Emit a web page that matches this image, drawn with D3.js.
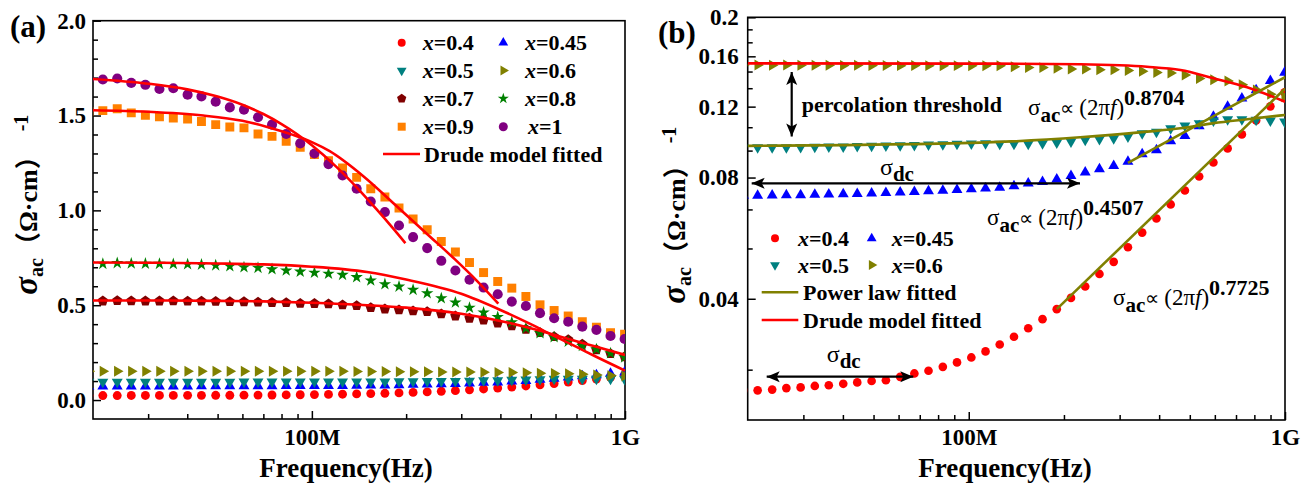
<!DOCTYPE html>
<html>
<head>
<meta charset="utf-8">
<script src="https://cdn.jsdelivr.net/npm/d3@7"></script>
<style>
  body { margin: 0; background: #fff; }
  svg text { font-family: "Liberation Serif", "Times New Roman", serif; font-weight: bold; fill: #000; }
</style>
</head>
<body>
<svg id="chart" width="1312" height="484"></svg>
<script>
// frequency sweep (MHz), same for every sample
const freqMHz = [19.4, 21.5, 23.9, 26.5, 29.4, 32.6, 36.1, 40.1, 44.4, 49.3, 54.7, 60.7, 67.3, 74.6, 82.8,
  91.8, 101.9, 113, 125.3, 139, 154.2, 171.1, 189.8, 210.5, 233.5, 259, 287.3, 318.7, 353.5, 392.2, 435,
  482.5, 535.3, 593.8, 658.6, 730.6, 810.4, 899, 997];

// sigma_ac (Ohm cm)^-1 for each composition x
const sigma04 = [0.0237, 0.0237, 0.0238, 0.0240, 0.0241, 0.0243, 0.0244, 0.0246, 0.0248, 0.0250, 0.0251, 0.0256,
  0.0261, 0.0265, 0.0271, 0.0278, 0.0286, 0.0296, 0.0308, 0.0322, 0.0338, 0.0356, 0.0377, 0.0402, 0.0429, 0.0461,
  0.0494, 0.0537, 0.0584, 0.0633, 0.0686, 0.0743, 0.0805, 0.0872, 0.0945, 0.1024, 0.1109, 0.1202, 0.1302];
const sigma045 = [0.0722, 0.0722, 0.0723, 0.0724, 0.0724, 0.0726, 0.0727, 0.0728, 0.0729, 0.0731, 0.0733, 0.0735,
  0.0737, 0.0740, 0.0743, 0.0746, 0.0749, 0.0752, 0.0755, 0.0762, 0.0774, 0.0781, 0.0792, 0.0808, 0.0824, 0.0840,
  0.0856, 0.0876, 0.0915, 0.0936, 0.0986, 0.1015, 0.1074, 0.1133, 0.1200, 0.1259, 0.1320, 0.1390, 0.1457];
const sigma05 = [0.0950, 0.0950, 0.0950, 0.0951, 0.0952, 0.0953, 0.0954, 0.0955, 0.0957, 0.0958, 0.0960, 0.0962,
  0.0963, 0.0965, 0.0967, 0.0969, 0.0971, 0.0973, 0.0970, 0.0969, 0.0969, 0.0973, 0.0977, 0.0982, 0.0992, 0.0996,
  0.1001, 0.1010, 0.1030, 0.1039, 0.1060, 0.1076, 0.1091, 0.1107, 0.1116, 0.1116, 0.1112, 0.1107, 0.1101];
const sigma06 = [0.1522, 0.1522, 0.1521, 0.1522, 0.1520, 0.1521, 0.1520, 0.1519, 0.1520, 0.1518, 0.1519, 0.1517,
  0.1518, 0.1517, 0.1516, 0.1517, 0.1516, 0.1516, 0.1516, 0.1508, 0.1500, 0.1500, 0.1494, 0.1489, 0.1489, 0.1482,
  0.1482, 0.1475, 0.1470, 0.1458, 0.1455, 0.1438, 0.1409, 0.1400, 0.1390, 0.1360, 0.1319, 0.1288, 0.1270];
const sigma07 = [0.522, 0.522, 0.524, 0.523, 0.522, 0.522, 0.523, 0.521, 0.521, 0.520, 0.519, 0.518, 0.516, 0.514,
  0.513, 0.510, 0.509, 0.507, 0.502, 0.498, 0.487, 0.480, 0.475, 0.470, 0.466, 0.454, 0.443, 0.431, 0.422, 0.405,
  0.391, 0.373, 0.355, 0.334, 0.318, 0.295, 0.265, 0.245, 0.228];
const sigma08 = [0.718, 0.718, 0.722, 0.720, 0.719, 0.718, 0.717, 0.716, 0.714, 0.710, 0.706, 0.700, 0.697, 0.690,
  0.683, 0.677, 0.671, 0.666, 0.660, 0.648, 0.630, 0.611, 0.598, 0.581, 0.563, 0.537, 0.514, 0.487, 0.461, 0.438,
  0.410, 0.378, 0.352, 0.331, 0.308, 0.285, 0.268, 0.247, 0.225];
const sigma09 = [1.520, 1.526, 1.536, 1.514, 1.501, 1.493, 1.487, 1.482, 1.469, 1.452, 1.440, 1.435, 1.403, 1.390,
  1.364, 1.332, 1.294, 1.262, 1.223, 1.174, 1.114, 1.070, 1.012, 0.954, 0.898, 0.836, 0.780, 0.725, 0.672, 0.625,
  0.590, 0.546, 0.502, 0.472, 0.443, 0.413, 0.384, 0.355, 0.347];
const sigma10 = [1.690, 1.690, 1.695, 1.672, 1.662, 1.640, 1.644, 1.610, 1.601, 1.573, 1.543, 1.531, 1.491, 1.452,
  1.403, 1.353, 1.300, 1.244, 1.184, 1.114, 1.047, 0.991, 0.920, 0.859, 0.801, 0.734, 0.683, 0.634, 0.593, 0.558,
  0.519, 0.496, 0.458, 0.431, 0.413, 0.387, 0.370, 0.338, 0.322];

// fitted curves, [MHz, sigma]
const drude10Fit = [[20, 1.693], [30, 1.668], [40, 1.638], [50, 1.600], [60, 1.557], [70, 1.508], [80, 1.455],
  [90, 1.400], [100, 1.343], [120, 1.228], [140, 1.116], [160, 1.010], [180, 0.913], [199, 0.827]];
const drude09Fit = [[20, 1.528], [30, 1.520], [45, 1.500], [60, 1.472], [72, 1.440], [87, 1.398], [100, 1.360],
  [114, 1.312], [146, 1.180], [187, 1.020], [239, 0.860], [287, 0.740], [336, 0.630], [394, 0.508]];
const drude08Fit = [[20, 0.725], [30, 0.724], [50, 0.720], [70, 0.715], [100, 0.703], [150, 0.675], [200, 0.635],
  [300, 0.560], [400, 0.475], [500, 0.400], [600, 0.334], [700, 0.280], [800, 0.232], [1000, 0.155]];
const drude07Fit = [[20, 0.525], [30, 0.525], [50, 0.523], [70, 0.520], [100, 0.513], [150, 0.500], [200, 0.487],
  [300, 0.455], [400, 0.417], [500, 0.378], [600, 0.342], [700, 0.310], [800, 0.283], [1000, 0.238]];
const drude06Fit = [[20, 0.1537], [100, 0.1535], [225, 0.1529], [300, 0.1520], [366, 0.1507], [467, 0.1479],
  [594, 0.1411], [759, 0.1340], [1000, 0.1234]];
const power04Fit = [[189.8, 0.0377], [1000, 0.133]];
const power045Fit = [[318.7, 0.0870], [1000, 0.142]];
const power05Fit = [[20, 0.0959], [108.7, 0.0977], [225, 0.1007], [366, 0.1040], [467, 0.1060], [594, 0.1092],
  [759, 0.1117], [1000, 0.1144]];

// ticks
const xMajorTicks = [100, 1000];
const xTickLabels = ['100M', '1G'];
const xMinorTicks = [30, 40, 50, 60, 70, 80, 90, 200, 300, 400, 500, 600, 700, 800, 900];
const yaMajorTicks = [0, 0.5, 1.0, 1.5, 2.0];
const yaTickLabels = ['0.0', '0.5', '1.0', '1.5', '2.0'];
const yaMinorTicks = [0.1, 0.2, 0.3, 0.4, 0.6, 0.7, 0.8, 0.9, 1.1, 1.2, 1.3, 1.4, 1.6, 1.7, 1.8, 1.9];
const ybMajorTicks = [0.04, 0.08, 0.12, 0.16, 0.2];
const ybTickLabels = ['0.04', '0.08', '0.12', '0.16', '0.2'];
const ybMinorTicks = [0.02667, 0.05333, 0.06667, 0.09333, 0.10667, 0.13333, 0.14667, 0.17333, 0.18667];

const svg = d3.select('#chart');
svg.append('rect').attr('width', 1312).attr('height', 484).attr('fill', '#fff');

const xA = d3.scaleLog().domain([20, 1000]).range([93, 625]);
const yA = d3.scaleLinear().domain([-0.1, 2.0]).range([419, 20.7]);
const xB = d3.scaleLog().domain([20, 1000]).range([747.7, 1285]);
const yB = d3.scaleLog().domain([0.02, 0.2]).range([420, 17.3]);

// pentagon symbol for x=0.7
const symbolPentagon = {
  draw(ctx, size) {
    const r = Math.sqrt(size / 2.378);
    for (let k = 0; k < 5; k++) {
      const a = -Math.PI / 2 + k * 2 * Math.PI / 5;
      if (k) ctx.lineTo(r * Math.cos(a), r * Math.sin(a));
      else ctx.moveTo(r * Math.cos(a), r * Math.sin(a));
    }
    ctx.closePath();
  }
};

const samples = {
  '0.4': { vals: sigma04, color: '#ff0000', type: d3.symbolCircle, size: 62, rot: 0 },
  '0.45': { vals: sigma045, color: '#0000ff', type: d3.symbolTriangle, size: 52, rot: 0 },
  '0.5': { vals: sigma05, color: '#008080', type: d3.symbolTriangle, size: 52, rot: 180 },
  '0.6': { vals: sigma06, color: '#808000', type: d3.symbolTriangle, size: 52, rot: 90 },
  '0.7': { vals: sigma07, color: '#800000', type: symbolPentagon, size: 70, rot: 0 },
  '0.8': { vals: sigma08, color: '#008000', type: d3.symbolStar, size: 48, rot: 0 },
  '0.9': { vals: sigma09, color: '#ff8000', type: d3.symbolSquare, size: 80, rot: 0 },
  '1': { vals: sigma10, color: '#800080', type: d3.symbolCircle, size: 80, rot: 0 }
};

function drawAxes(x, y, o) {
  const [x0, x1] = x.range(), [y0, y1] = y.range();
  const ax = svg.append('g').attr('transform', `translate(0,${y0})`)
    .call(d3.axisBottom(x).tickValues(xMajorTicks).tickFormat((d, i) => xTickLabels[i])
      .tickSizeInner(-8).tickSizeOuter(0).tickPadding(o.xPad));
  svg.append('g').attr('transform', `translate(0,${y0})`)
    .call(d3.axisBottom(x).tickValues(xMinorTicks).tickFormat('').tickSizeInner(-5).tickSizeOuter(0));
  const ay = svg.append('g').attr('transform', `translate(${x0},0)`)
    .call(d3.axisLeft(y).tickValues(o.yMajor).tickFormat((d, i) => o.yLabels[i])
      .tickSizeInner(-8).tickSizeOuter(0).tickPadding(o.yPad));
  svg.append('g').attr('transform', `translate(${x0},0)`)
    .call(d3.axisLeft(y).tickValues(o.yMinor).tickFormat('').tickSizeInner(-5).tickSizeOuter(0));
  svg.selectAll('.domain').remove();
  svg.selectAll('.tick line').attr('stroke', '#000').attr('stroke-width', 1.5);
  ax.attr('font-family', null).attr('font-size', null);
  ay.attr('font-family', null).attr('font-size', null);
  ax.selectAll('text').attr('font-size', 23);
  ay.selectAll('text').attr('font-size', 23);
  svg.append('rect').attr('x', x0).attr('y', y1).attr('width', x1 - x0).attr('height', y0 - y1)
    .attr('fill', 'none').attr('stroke', '#000').attr('stroke-width', 1.6);
  svg.append('text').attr('x', o.titleX).attr('y', 477).attr('text-anchor', 'middle')
    .attr('font-size', 27).text('Frequency(Hz)');
}

// rotated y title: sigma_ac (Ohm cm) and the -1 exponent as its own text
function yTitle(bx, cy, sx, sy) {
  const t = svg.append('text').attr('transform', `translate(${bx},${cy}) rotate(-90)`)
    .attr('text-anchor', 'middle');
  t.append('tspan').attr('font-style', 'italic').attr('font-size', 33).text('σ');
  t.append('tspan').attr('font-size', 20).attr('dy', 6).text('ac');
  t.append('tspan').attr('font-size', 26).attr('dy', -6)
    .style('font-family', '"Noto Sans CJK SC"').text('（');
  t.append('tspan').attr('font-size', 26).text('Ω·cm');
  t.append('tspan').attr('font-size', 26).style('font-family', '"Noto Sans CJK SC"').text('）');
  svg.append('text').attr('transform', `translate(${sx},${sy}) rotate(-90)`)
    .attr('text-anchor', 'middle').attr('font-size', 20).text('-1');
}

function clipFor(id, x, y) {
  svg.append('clipPath').attr('id', id).append('rect')
    .attr('x', x.range()[0]).attr('y', y.range()[1])
    .attr('width', x.range()[1] - x.range()[0]).attr('height', y.range()[0] - y.range()[1]);
  return svg.append('g').attr('clip-path', `url(#${id})`);
}

function drawMarkers(g, x, y, key, scale) {
  const s = samples[key];
  g.append('g').selectAll('path')
    .data(freqMHz.map((f, i) => [f, s.vals[i]]))
    .join('path')
    .attr('transform', d => `translate(${x(d[0])},${y(d[1])}) rotate(${s.rot})`)
    .attr('d', d3.symbol(s.type, s.size * scale)())
    .attr('fill', s.color);
}

function drawFit(g, x, y, pts, color) {
  const line = d3.line().x(d => x(d[0])).y(d => y(d[1])).curve(d3.curveMonotoneX);
  g.append('path').attr('d', line(pts)).attr('fill', 'none')
    .attr('stroke', color).attr('stroke-width', 2.6);
}

function legendItem(mx, tx, cy, key) {
  const s = samples[key];
  svg.append('path').attr('transform', `translate(${mx},${cy}) rotate(${s.rot})`)
    .attr('d', d3.symbol(s.type, s.size * 0.8)()).attr('fill', s.color);
  const t = svg.append('text').attr('x', tx).attr('y', cy + 7.5).attr('font-size', 22);
  t.append('tspan').attr('font-style', 'italic').text('x');
  t.append('tspan').text('=' + key);
}

function legendLine(x0, x1, tx, cy, color, label) {
  svg.append('line').attr('x1', x0).attr('x2', x1).attr('y1', cy).attr('y2', cy)
    .attr('stroke', color).attr('stroke-width', 2.6);
  svg.append('text').attr('x', tx).attr('y', cy + 7.5).attr('font-size', 22).text(label);
}

function arrowHead(x, y, angle) {
  svg.append('path').attr('d', 'M0,0 L-13,-5.5 L-10,0 L-13,5.5 Z')
    .attr('transform', `translate(${x},${y}) rotate(${angle})`).attr('fill', '#000');
}

function doubleArrow(x1, y1, x2, y2) {
  svg.append('line').attr('x1', x1).attr('y1', y1).attr('x2', x2).attr('y2', y2)
    .attr('stroke', '#000').attr('stroke-width', 2.2);
  const ang = Math.atan2(y2 - y1, x2 - x1) * 180 / Math.PI;
  arrowHead(x2, y2, ang);
  arrowHead(x1, y1, ang + 180);
}

function sigmaDc(x, y) {
  const t = svg.append('text').attr('x', x).attr('y', y).attr('font-size', 24);
  t.append('tspan').style('font-weight', 'normal').text('σ');
  t.append('tspan').attr('font-size', 21).attr('dy', 6).text('dc');
}

function sigmaAc(x, y, expo) {
  const t = svg.append('text').attr('x', x).attr('y', y).attr('font-size', 23);
  t.append('tspan').style('font-weight', 'normal').text('σ');
  t.append('tspan').attr('font-size', 21).attr('dy', 7).text('ac');
  t.append('tspan').style('font-weight', 'normal').attr('font-size', 20).attr('dy', -7).text('∝ ');
  t.append('tspan').style('font-weight', 'normal').text('(2π');
  t.append('tspan').style('font-weight', 'normal').attr('font-style', 'italic').text('f');
  t.append('tspan').style('font-weight', 'normal').text(')');
  t.append('tspan').attr('font-size', 22).attr('dy', -10).text(expo);
}

// ---------- panel (a) ----------
drawAxes(xA, yA, { yMajor: yaMajorTicks, yLabels: yaTickLabels, yMinor: yaMinorTicks, xPad: 9.7, yPad: 7, titleX: 346 });
const gA = clipFor('clipA', xA, yA);
['0.4', '0.45', '0.5', '0.6', '0.7', '0.8', '0.9', '1'].forEach(k => drawMarkers(gA, xA, yA, k, 1));
[drude10Fit, drude09Fit, drude08Fit, drude07Fit].forEach(p => drawFit(gA, xA, yA, p, '#ff0000'));
yTitle(37, 219, 28, 123);
svg.append('text').attr('x', 10).attr('y', 37).attr('font-size', 31).text('(a)');

legendItem(401.7, 422.7, 42.7, '0.4');
legendItem(503.3, 525, 42.7, '0.45');
legendItem(401.7, 422.7, 70.5, '0.5');
legendItem(503.3, 525, 70.5, '0.6');
legendItem(401.7, 422.7, 98.5, '0.7');
legendItem(503.3, 525, 98.5, '0.8');
legendItem(401.7, 422.7, 126.7, '0.9');
legendItem(503.3, 528, 126.7, '1');
legendLine(383, 420, 424, 154, '#ff0000', 'Drude model fitted');

// ---------- panel (b) ----------
drawAxes(xB, yB, { yMajor: ybMajorTicks, yLabels: ybTickLabels, yMinor: ybMinorTicks, xPad: 8.7, yPad: 9, titleX: 1005 });
const gB = clipFor('clipB', xB, yB);
['0.4', '0.45', '0.5', '0.6'].forEach(k => drawMarkers(gB, xB, yB, k, k === '0.4' ? 0.95 : 1));
drawFit(gB, xB, yB, drude06Fit, '#ff0000');
[power04Fit, power045Fit, power05Fit].forEach(p => drawFit(gB, xB, yB, p, '#808000'));
yTitle(685, 228, 676, 135);
svg.append('text').attr('x', 658).attr('y', 43).attr('font-size', 31).text('(b)');

legendItem(775, 798, 238.3, '0.4');
legendItem(871.7, 891.7, 238.3, '0.45');
legendItem(775, 798, 265, '0.5');
legendItem(871.7, 891.7, 265, '0.6');
legendLine(761.7, 798.3, 803, 292.3, '#808000', 'Power law fitted');
legendLine(761.7, 798.3, 803, 320, '#ff0000', 'Drude model fitted');

// annotations
doubleArrow(791.7, 72, 791.7, 136.5);
svg.append('text').attr('x', 801.7).attr('y', 112).attr('font-size', 22).text('percolation threshold');
doubleArrow(751.7, 183.3, 1080, 183.3);
sigmaDc(880, 175);
doubleArrow(766.7, 376.7, 913.3, 376.7);
sigmaDc(826.7, 362);
sigmaAc(1028, 115, '0.8704');
sigmaAc(987, 225, '0.4507');
sigmaAc(1113, 305, '0.7725');
</script>
</body>
</html>
